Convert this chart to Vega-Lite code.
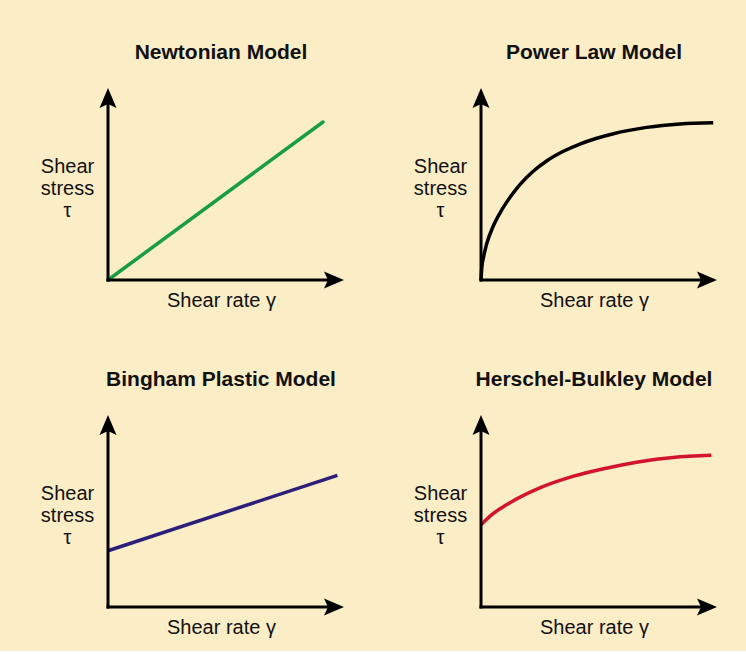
{
  "$schema": "https://vega.github.io/schema/vega-lite/v6.json",
  "background": "#FBEDC6",
  "padding": {"left": 40, "top": 42, "right": 29, "bottom": 14},
  "datasets": {
    "curves": [
      {"panel": "Newtonian", "x": 0, "y": 0},
      {"panel": "Newtonian", "x": 9.11, "y": 8.23},
      {"panel": "Power", "x": 0, "y": 0},
      {"panel": "Power", "x": 0.04, "y": 0.73},
      {"panel": "Power", "x": 0.1, "y": 1.15},
      {"panel": "Power", "x": 0.24, "y": 1.88},
      {"panel": "Power", "x": 0.52, "y": 2.81},
      {"panel": "Power", "x": 0.88, "y": 3.65},
      {"panel": "Power", "x": 1.27, "y": 4.38},
      {"panel": "Power", "x": 1.65, "y": 4.97},
      {"panel": "Power", "x": 2.2, "y": 5.65},
      {"panel": "Power", "x": 2.78, "y": 6.2},
      {"panel": "Power", "x": 3.47, "y": 6.69},
      {"panel": "Power", "x": 4.19, "y": 7.08},
      {"panel": "Power", "x": 4.87, "y": 7.37},
      {"panel": "Power", "x": 5.61, "y": 7.62},
      {"panel": "Power", "x": 7.02, "y": 7.95},
      {"panel": "Power", "x": 8.43, "y": 8.13},
      {"panel": "Power", "x": 9.84, "y": 8.19},
      {"panel": "Bingham", "x": 0, "y": 2.93},
      {"panel": "Bingham", "x": 9.72, "y": 6.86},
      {"panel": "HB", "x": 0, "y": 4.29},
      {"panel": "HB", "x": 0.5, "y": 4.85},
      {"panel": "HB", "x": 1.08, "y": 5.32},
      {"panel": "HB", "x": 2.49, "y": 6.2},
      {"panel": "HB", "x": 3.89, "y": 6.8},
      {"panel": "HB", "x": 5.31, "y": 7.23},
      {"panel": "HB", "x": 6.72, "y": 7.57},
      {"panel": "HB", "x": 8.14, "y": 7.79},
      {"panel": "HB", "x": 9.76, "y": 7.9}
    ],
    "one": [{}]
  },
  "columns": 2,
  "spacing": {"column": 137, "row": 135},
  "bounds": "flush",
  "concat": [
    {
      "width": 236, "height": 192,
      "title": "Newtonian Model",
      "layer": [
        {"data": {"name": "curves"}, "transform": [{"filter": "datum.panel === 'Newtonian'"}],
         "mark": {"type": "line", "color": "#189E40", "strokeWidth": 3.5, "strokeCap": "round"},
         "encoding": {
           "x": {"field": "x", "type": "quantitative", "scale": {"domain": [0, 10]}, "title": "Shear rate γ"},
           "y": {"field": "y", "type": "quantitative", "scale": {"domain": [0, 10]}, "title": ["Shear", "stress", "τ"]}}},
        {"data": {"name": "one"}, "mark": {"type": "rule", "color": "black", "strokeWidth": 3, "strokeCap": "square"},
         "encoding": {"x": {"datum": 0, "type": "quantitative"}, "y": {"datum": 0, "type": "quantitative"}, "y2": {"datum": 9.2}}},
        {"data": {"name": "one"}, "mark": {"type": "rule", "color": "black", "strokeWidth": 3, "strokeCap": "square"},
         "encoding": {"y": {"datum": 0, "type": "quantitative"}, "x": {"datum": 0, "type": "quantitative"}, "x2": {"datum": 9.3}}},
        {"data": {"name": "one"}, "mark": {"type": "point", "shape": "M0,0L0.85,2L0,1.6L-0.85,2Z", "size": 400, "filled": true, "color": "black", "opacity": 1, "strokeWidth": 0},
         "encoding": {"x": {"datum": 0, "type": "quantitative"}, "y": {"datum": 10, "type": "quantitative"}}},
        {"data": {"name": "one"}, "mark": {"type": "point", "shape": "M0,0L-2,-0.85L-1.6,0L-2,0.85Z", "size": 400, "filled": true, "color": "black", "opacity": 1, "strokeWidth": 0},
         "encoding": {"x": {"datum": 10, "type": "quantitative"}, "y": {"datum": 0, "type": "quantitative"}}}
      ]
    },
    {
      "width": 236, "height": 192,
      "title": "Power Law Model",
      "layer": [
        {"data": {"name": "curves"}, "transform": [{"filter": "datum.panel === 'Power'"}],
         "mark": {"type": "line", "color": "#000000", "strokeWidth": 3.5, "interpolate": "monotone", "strokeCap": "butt"},
         "encoding": {
           "x": {"field": "x", "type": "quantitative", "scale": {"domain": [0, 10]}, "title": "Shear rate γ"},
           "y": {"field": "y", "type": "quantitative", "scale": {"domain": [0, 10]}, "title": ["Shear", "stress", "τ"]}}},
        {"data": {"name": "one"}, "mark": {"type": "rule", "color": "black", "strokeWidth": 3, "strokeCap": "square"},
         "encoding": {"x": {"datum": 0, "type": "quantitative"}, "y": {"datum": 0, "type": "quantitative"}, "y2": {"datum": 9.2}}},
        {"data": {"name": "one"}, "mark": {"type": "rule", "color": "black", "strokeWidth": 3, "strokeCap": "square"},
         "encoding": {"y": {"datum": 0, "type": "quantitative"}, "x": {"datum": 0, "type": "quantitative"}, "x2": {"datum": 9.3}}},
        {"data": {"name": "one"}, "mark": {"type": "point", "shape": "M0,0L0.85,2L0,1.6L-0.85,2Z", "size": 400, "filled": true, "color": "black", "opacity": 1, "strokeWidth": 0},
         "encoding": {"x": {"datum": 0, "type": "quantitative"}, "y": {"datum": 10, "type": "quantitative"}}},
        {"data": {"name": "one"}, "mark": {"type": "point", "shape": "M0,0L-2,-0.85L-1.6,0L-2,0.85Z", "size": 400, "filled": true, "color": "black", "opacity": 1, "strokeWidth": 0},
         "encoding": {"x": {"datum": 10, "type": "quantitative"}, "y": {"datum": 0, "type": "quantitative"}}}
      ]
    },
    {
      "width": 236, "height": 192,
      "title": "Bingham Plastic Model",
      "layer": [
        {"data": {"name": "curves"}, "transform": [{"filter": "datum.panel === 'Bingham'"}],
         "mark": {"type": "line", "color": "#2B1F7A", "strokeWidth": 3.5, "strokeCap": "butt"},
         "encoding": {
           "x": {"field": "x", "type": "quantitative", "scale": {"domain": [0, 10]}, "title": "Shear rate γ"},
           "y": {"field": "y", "type": "quantitative", "scale": {"domain": [0, 10]}, "title": ["Shear", "stress", "τ"]}}},
        {"data": {"name": "one"}, "mark": {"type": "rule", "color": "black", "strokeWidth": 3, "strokeCap": "square"},
         "encoding": {"x": {"datum": 0, "type": "quantitative"}, "y": {"datum": 0, "type": "quantitative"}, "y2": {"datum": 9.2}}},
        {"data": {"name": "one"}, "mark": {"type": "rule", "color": "black", "strokeWidth": 3, "strokeCap": "square"},
         "encoding": {"y": {"datum": 0, "type": "quantitative"}, "x": {"datum": 0, "type": "quantitative"}, "x2": {"datum": 9.3}}},
        {"data": {"name": "one"}, "mark": {"type": "point", "shape": "M0,0L0.85,2L0,1.6L-0.85,2Z", "size": 400, "filled": true, "color": "black", "opacity": 1, "strokeWidth": 0},
         "encoding": {"x": {"datum": 0, "type": "quantitative"}, "y": {"datum": 10, "type": "quantitative"}}},
        {"data": {"name": "one"}, "mark": {"type": "point", "shape": "M0,0L-2,-0.85L-1.6,0L-2,0.85Z", "size": 400, "filled": true, "color": "black", "opacity": 1, "strokeWidth": 0},
         "encoding": {"x": {"datum": 10, "type": "quantitative"}, "y": {"datum": 0, "type": "quantitative"}}}
      ]
    },
    {
      "width": 236, "height": 192,
      "title": "Herschel-Bulkley Model",
      "layer": [
        {"data": {"name": "curves"}, "transform": [{"filter": "datum.panel === 'HB'"}],
         "mark": {"type": "line", "color": "#D2142E", "strokeWidth": 3.5, "interpolate": "monotone", "strokeCap": "butt"},
         "encoding": {
           "x": {"field": "x", "type": "quantitative", "scale": {"domain": [0, 10]}, "title": "Shear rate γ"},
           "y": {"field": "y", "type": "quantitative", "scale": {"domain": [0, 10]}, "title": ["Shear", "stress", "τ"]}}},
        {"data": {"name": "one"}, "mark": {"type": "rule", "color": "black", "strokeWidth": 3, "strokeCap": "square"},
         "encoding": {"x": {"datum": 0, "type": "quantitative"}, "y": {"datum": 0, "type": "quantitative"}, "y2": {"datum": 9.2}}},
        {"data": {"name": "one"}, "mark": {"type": "rule", "color": "black", "strokeWidth": 3, "strokeCap": "square"},
         "encoding": {"y": {"datum": 0, "type": "quantitative"}, "x": {"datum": 0, "type": "quantitative"}, "x2": {"datum": 9.3}}},
        {"data": {"name": "one"}, "mark": {"type": "point", "shape": "M0,0L0.85,2L0,1.6L-0.85,2Z", "size": 400, "filled": true, "color": "black", "opacity": 1, "strokeWidth": 0},
         "encoding": {"x": {"datum": 0, "type": "quantitative"}, "y": {"datum": 10, "type": "quantitative"}}},
        {"data": {"name": "one"}, "mark": {"type": "point", "shape": "M0,0L-2,-0.85L-1.6,0L-2,0.85Z", "size": 400, "filled": true, "color": "black", "opacity": 1, "strokeWidth": 0},
         "encoding": {"x": {"datum": 10, "type": "quantitative"}, "y": {"datum": 0, "type": "quantitative"}}}
      ]
    }
  ],
  "config": {
    "view": {"stroke": null},
    "font": "Liberation Sans",
    "axis": {"domain": false, "ticks": false, "labels": false, "grid": false,
             "titleFont": "Liberation Sans",
             "titleFontSize": 20, "titleFontWeight": "normal", "titleColor": "#111111"},
    "axisX": {"titleX": 113, "titleY": 26, "titleAlign": "center", "titleBaseline": "alphabetic"},
    "axisY": {"titleX": -41, "titleY": 84, "titleAngle": 0, "titleAlign": "center", "titleBaseline": "alphabetic", "titleLineHeight": 22},
    "title": {"font": "Liberation Sans",
              "fontSize": 21, "fontWeight": "bold", "color": "#111111", "anchor": "middle", "frame": "group",
              "baseline": "alphabetic", "offset": 25, "dx": -5}
  }
}
